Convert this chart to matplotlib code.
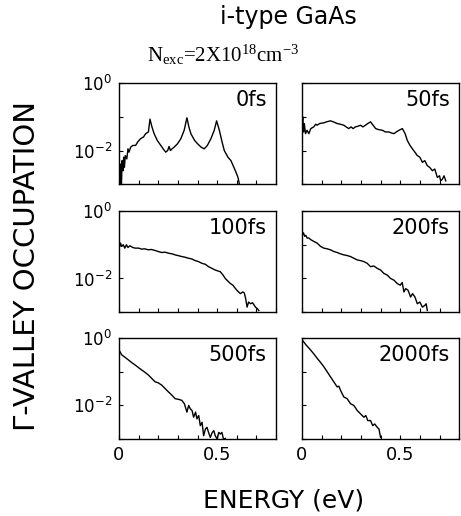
import numpy as np
import matplotlib.pyplot as plt

plt.rcParams['font.family'] = ['DejaVu Sans']
plt.rcParams['mathtext.fontset'] = 'custom'
plt.rcParams['mathtext.rm'] = 'Liberation Serif'
plt.rcParams['mathtext.it'] = 'Liberation Serif:italic'
plt.rcParams['mathtext.sf'] = 'DejaVu Sans'

# energy (eV) and log10(occupation)
e_0 = [0.008, 0.010, 0.012, 0.016, 0.020, 0.024, 0.028, 0.032, 0.040, 0.046, 0.051, 0.060, 0.070,
       0.085, 0.095, 0.110, 0.125, 0.136, 0.150, 0.158, 0.168, 0.179, 0.195, 0.213, 0.225, 0.238,
       0.248, 0.255, 0.262, 0.270, 0.281, 0.298, 0.315, 0.332, 0.346, 0.356, 0.366, 0.385, 0.400,
       0.418, 0.434, 0.450, 0.468, 0.485, 0.497, 0.511, 0.525, 0.536, 0.555, 0.570, 0.585, 0.596,
       0.606, 0.613]
l_0 = [-3.2, -2.4, -3.2, -2.3, -2.6, -2.2, -2.5, -2.15, -2.25, -1.95, -2.05, -1.9, -1.85,
       -1.85, -1.75, -1.65, -1.6, -1.5, -1.45, -1.07, -1.3, -1.5, -1.7, -1.85, -1.95, -2.05,
       -2.0, -1.88, -2.0, -1.95, -1.9, -1.8, -1.65, -1.4, -1.03, -1.3, -1.5, -1.7, -1.8,
       -1.9, -1.95, -1.85, -1.65, -1.4, -1.12, -1.4, -1.75, -2.0, -2.2, -2.3, -2.5, -2.65,
       -2.8, -3.0]

e_50 = [0.000, 0.004, 0.008, 0.012, 0.018, 0.026, 0.035, 0.045, 0.060, 0.070, 0.077, 0.090, 0.111,
        0.125, 0.145, 0.160, 0.179, 0.195, 0.213, 0.225, 0.238, 0.250, 0.260, 0.272, 0.285, 0.298,
        0.310, 0.323, 0.335, 0.349, 0.362, 0.375, 0.390, 0.409, 0.425, 0.443, 0.455, 0.468, 0.480,
        0.494, 0.511, 0.525, 0.536, 0.550, 0.562, 0.575, 0.587, 0.600, 0.613, 0.625, 0.638, 0.650,
        0.664, 0.676, 0.689, 0.700, 0.706, 0.715, 0.723, 0.732]
l_50 = [-1.3, -1.0, -1.45, -1.2, -1.5, -1.4, -1.5, -1.35, -1.3, -1.22, -1.25, -1.2, -1.18,
        -1.15, -1.12, -1.15, -1.2, -1.22, -1.25, -1.3, -1.35, -1.3, -1.35, -1.3, -1.28, -1.25,
        -1.3, -1.25, -1.2, -1.15, -1.25, -1.35, -1.38, -1.4, -1.45, -1.45, -1.48, -1.5, -1.45,
        -1.4, -1.35, -1.5, -1.7, -1.85, -1.95, -2.05, -2.15, -2.2, -2.35, -2.3, -2.45, -2.5,
        -2.6, -2.55, -2.8, -2.75, -2.9, -2.85, -2.75, -2.9]

e_100 = [0.000, 0.004, 0.008, 0.014, 0.022, 0.030, 0.038, 0.046, 0.056, 0.070, 0.082, 0.100, 0.116,
         0.130, 0.150, 0.165, 0.184, 0.200, 0.218, 0.235, 0.252, 0.270, 0.286, 0.300, 0.320, 0.337,
         0.354, 0.370, 0.388, 0.405, 0.422, 0.440, 0.456, 0.473, 0.490, 0.505, 0.516, 0.530, 0.541,
         0.555, 0.567, 0.580, 0.593, 0.605, 0.618, 0.630, 0.638, 0.645, 0.652, 0.660, 0.670, 0.680,
         0.695, 0.705, 0.712]
l_100 = [-0.9, -1.05, -0.95, -1.05, -1.0, -1.1, -1.0, -1.08, -1.03, -1.08, -1.1, -1.1, -1.13,
         -1.12, -1.15, -1.14, -1.17, -1.2, -1.23, -1.22, -1.25, -1.27, -1.3, -1.32, -1.35, -1.37,
         -1.4, -1.42, -1.47, -1.5, -1.55, -1.58, -1.65, -1.7, -1.75, -1.78, -1.8, -1.9, -2.0,
         -2.08, -2.15, -2.2, -2.3, -2.38, -2.45, -2.4, -2.43, -2.6, -2.85, -2.7, -2.75, -2.72,
         -2.85, -2.9, -2.95]

e_200 = [0.000, 0.004, 0.008, 0.014, 0.020, 0.026, 0.035, 0.045, 0.060, 0.077, 0.095, 0.111, 0.128,
         0.145, 0.162, 0.179, 0.196, 0.213, 0.230, 0.247, 0.264, 0.281, 0.298, 0.315, 0.332, 0.349,
         0.366, 0.383, 0.400, 0.417, 0.434, 0.451, 0.468, 0.485, 0.500, 0.510, 0.519, 0.528, 0.540,
         0.553, 0.563, 0.575, 0.587, 0.600, 0.613, 0.625, 0.632, 0.638]
l_200 = [-0.55, -0.7, -0.65, -0.75, -0.72, -0.8, -0.8, -0.85, -0.9, -0.95, -1.05, -1.1, -1.12,
         -1.15, -1.2, -1.23, -1.27, -1.3, -1.32, -1.35, -1.4, -1.45, -1.47, -1.5, -1.55, -1.65,
         -1.63, -1.7, -1.75, -1.85, -1.9, -2.0, -2.05, -2.15, -2.2, -2.12, -2.4, -2.3, -2.35,
         -2.55, -2.45, -2.55, -2.75, -2.7, -2.85, -2.8, -2.75, -2.95]

e_500 = [0.000, 0.014, 0.030, 0.048, 0.065, 0.082, 0.100, 0.116, 0.133, 0.150, 0.167, 0.184, 0.200,
         0.218, 0.235, 0.252, 0.270, 0.286, 0.303, 0.320, 0.333, 0.346, 0.355, 0.363, 0.372, 0.380,
         0.390, 0.397, 0.406, 0.414, 0.423, 0.431, 0.440, 0.448, 0.456, 0.465, 0.475, 0.483, 0.490,
         0.500, 0.508, 0.516, 0.524, 0.532, 0.541]
l_500 = [-0.35, -0.5, -0.57, -0.65, -0.73, -0.8, -0.88, -0.95, -1.02, -1.1, -1.2, -1.3, -1.33,
         -1.4, -1.5, -1.6, -1.7, -1.8, -1.82, -1.85, -1.95, -2.2, -2.0, -2.1, -2.15, -2.35,
         -2.2, -2.4, -2.3, -2.6, -2.5, -2.9, -2.7, -2.65, -2.8, -2.95, -2.8, -2.75, -2.9,
         -3.0, -2.8, -2.85, -2.8, -3.0, -2.98]

e_2000 = [0.000, 0.020, 0.043, 0.060, 0.077, 0.094, 0.111, 0.128, 0.145, 0.162, 0.179, 0.188, 0.196,
          0.213, 0.230, 0.247, 0.264, 0.281, 0.298, 0.315, 0.325, 0.335, 0.349, 0.360, 0.370, 0.383,
          0.392, 0.400]
l_2000 = [-0.05, -0.2, -0.35, -0.47, -0.6, -0.72, -0.85, -1.0, -1.15, -1.3, -1.45, -1.43, -1.55,
          -1.75, -1.8, -1.95, -2.0, -2.15, -2.25, -2.35, -2.3, -2.45, -2.45, -2.6, -2.55, -2.65,
          -2.7, -2.95]

panels = [(e_0, l_0, '0fs'), (e_50, l_50, '50fs'),
          (e_100, l_100, '100fs'), (e_200, l_200, '200fs'),
          (e_500, l_500, '500fs'), (e_2000, l_2000, '2000fs')]

fig = plt.figure(figsize=(4.61, 5.16), dpi=100)

lefts = [0.258, 0.655]
bottoms = [0.643, 0.395, 0.149]
w, h = 0.341, 0.196

for i, (e, l, lab) in enumerate(panels):
    row, col = divmod(i, 2)
    ax = fig.add_axes([lefts[col], bottoms[row], w, h])
    ax.plot(e, 10 ** np.array(l), color='black', lw=1.0)
    ax.set_yscale('log')
    ax.set_ylim(1e-3, 1e0)
    ax.set_xlim(0, 0.8)
    ax.set_yticks([1e0, 1e-1, 1e-2, 1e-3])
    ax.minorticks_off()
    ax.set_xticks(np.arange(0, 0.81, 0.1))
    ax.tick_params(direction='in', length=3, width=0.8, pad=5)
    if col == 0:
        ax.set_yticklabels([r'$\mathsf{10^{0}}$', '', r'$\mathsf{10^{-2}}$', ''], fontsize=12)
    else:
        ax.set_yticklabels([])
    if row == 2:
        ax.set_xticklabels(['0', '', '', '', '', '0.5', '', '', ''], fontsize=13)
    else:
        ax.set_xticklabels([])
    for s in ax.spines.values():
        s.set_linewidth(1.0)
    ax.text(0.94, 0.93, lab, transform=ax.transAxes, ha='right', va='top', fontsize=15)

fig.text(0.625, 0.967, 'i-type GaAs', ha='center', va='center', fontsize=17)
fig.text(0.319, 0.880, r'N$_{\rm exc}$=2X10$^{18}$cm$^{-3}$', ha='left', va='baseline',
         fontsize=15, family='Liberation Serif')
fig.text(0.058, 0.484, 'Γ-VALLEY OCCUPATION', rotation=90, ha='center', va='center', fontsize=21)
fig.text(0.616, 0.031, 'ENERGY (eV)', ha='center', va='center', fontsize=18)

fig.savefig('out.png', dpi=100)
